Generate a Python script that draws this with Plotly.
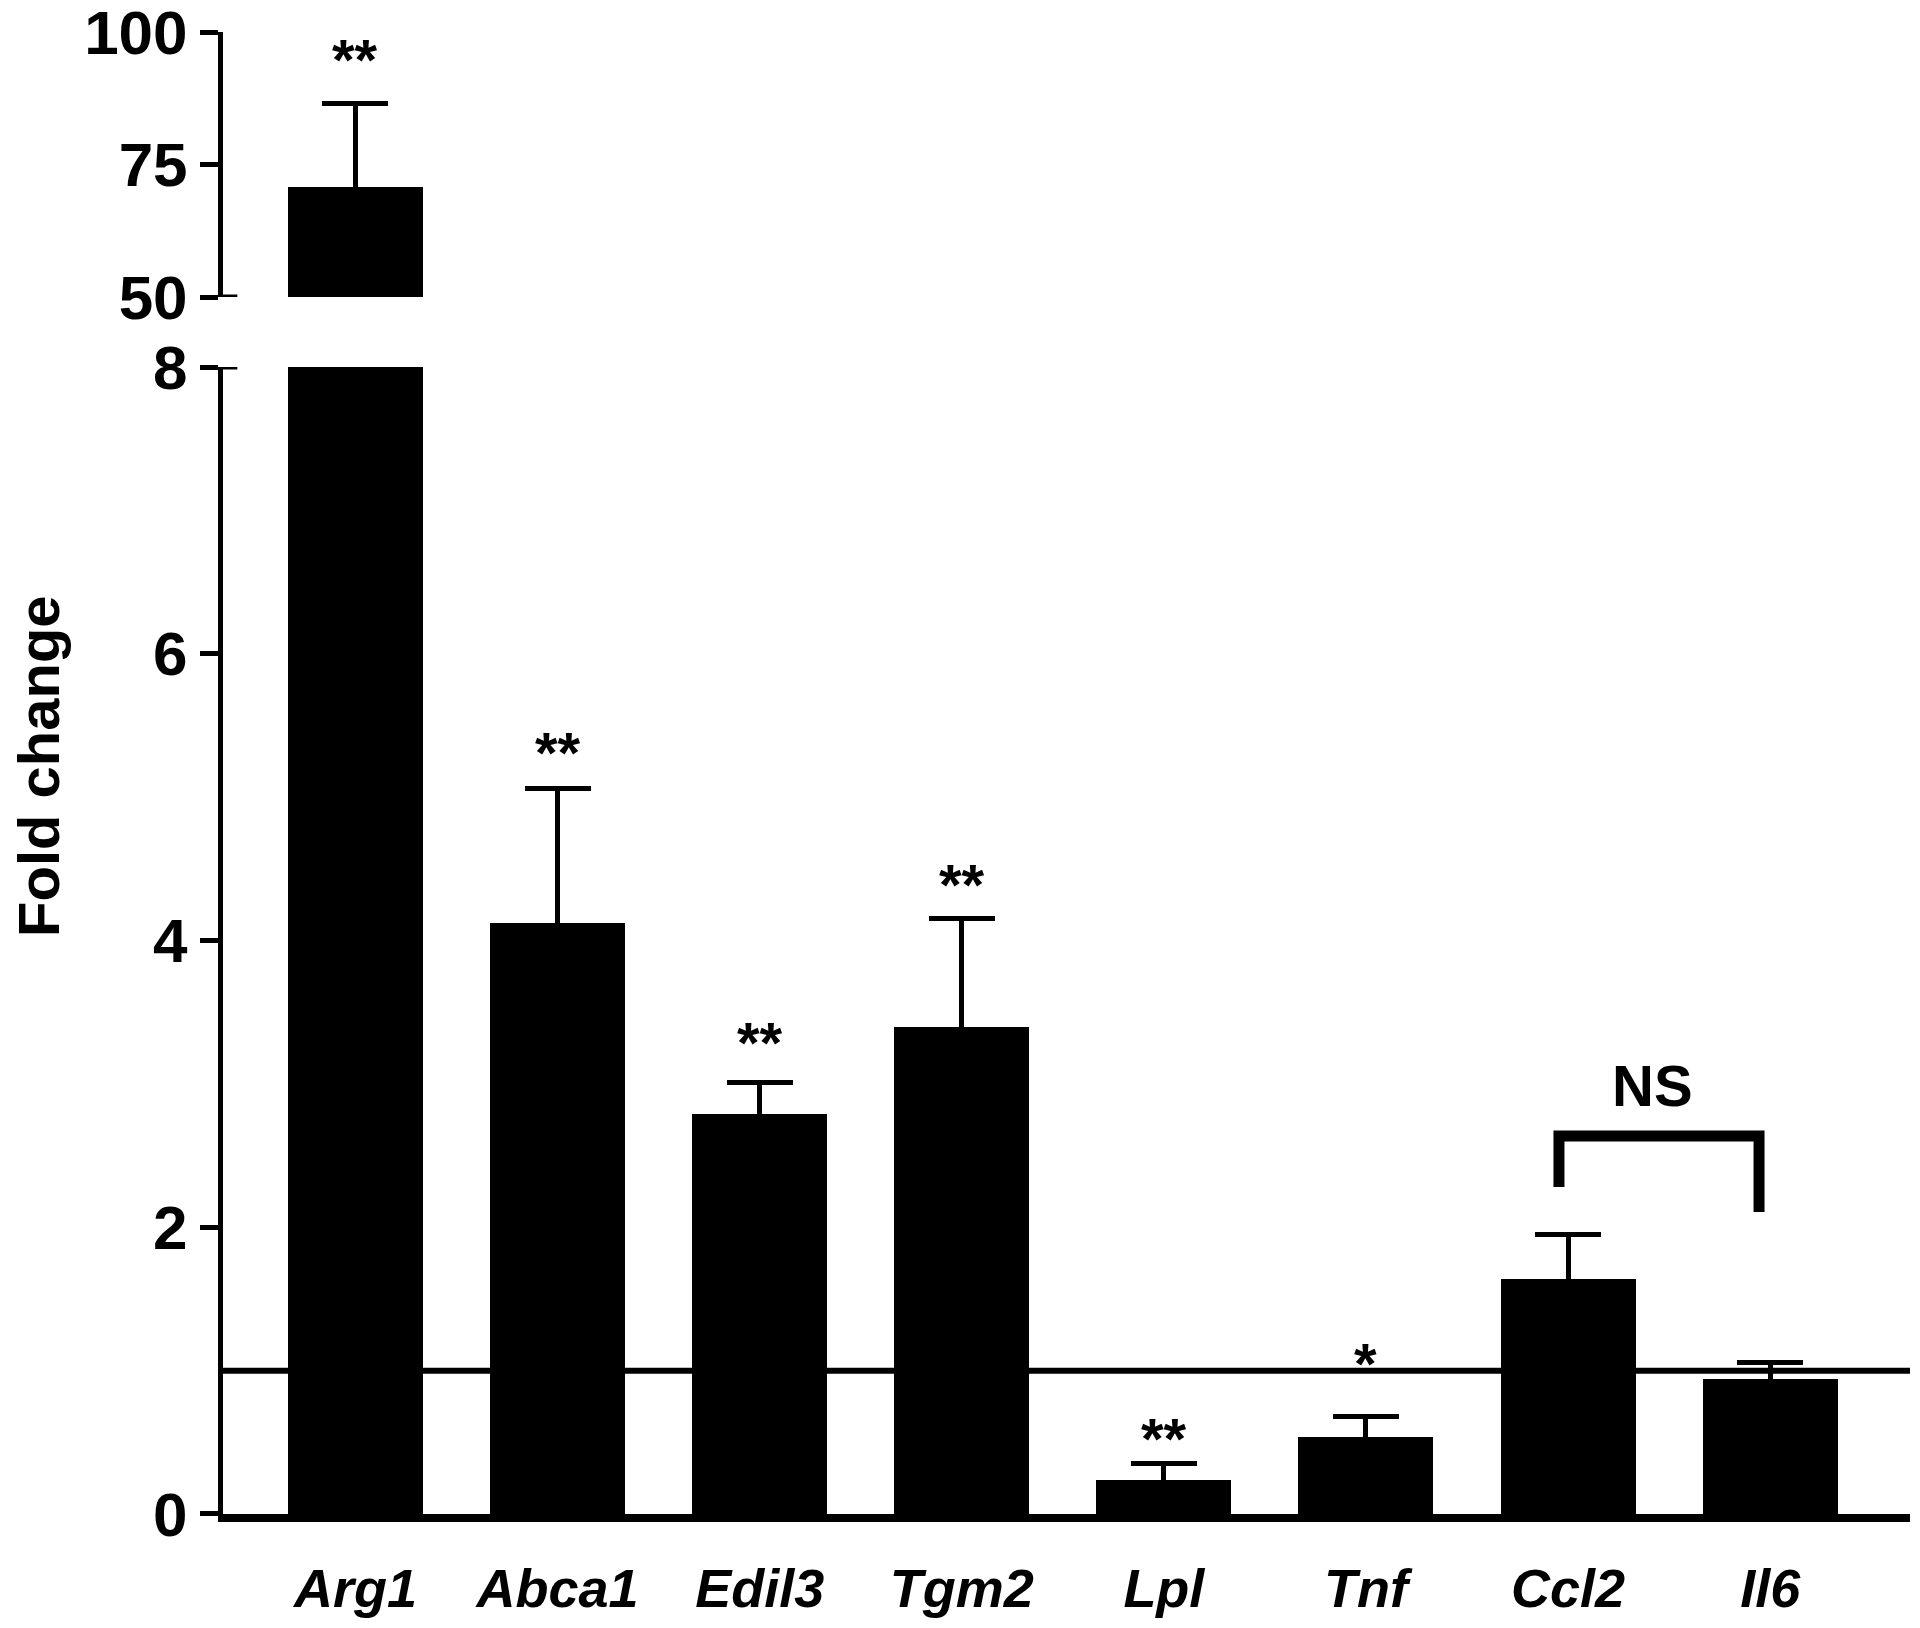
import plotly.graph_objects as go

genes = ["Arg1", "Abca1", "Edil3", "Tgm2", "Lpl", "Tnf", "Ccl2", "Il6"]
fold = [70.8, 4.12, 2.79, 3.40, 0.24, 0.54, 1.64, 0.94]
sem = [15.8, 0.94, 0.22, 0.75, 0.11, 0.14, 0.31, 0.12]
stars = ["**", "**", "**", "**", "**", "*", "", ""]
star_y = [96.0, 5.35, 3.33, 4.43, 0.565, 1.095, None, None]

lower_ticks = [0, 2, 4, 6, 8]
upper_ticks = [50, 75, 100]
lower_range = [0, 8]
upper_range = [50, 100]
baseline = 1.0

ns_label = "NS"
ns_x = 6.42
ns_y = 2.99
bracket_x = [5.955, 5.955, 6.945, 6.945]
bracket_y = [2.28, 2.636, 2.636, 2.106]

FONT = "Arial, Liberation Sans, Helvetica, sans-serif"
BLACK = "#000000"
BAR_W = 0.668
X_RANGE = [-0.6556, 7.692]

fig = go.Figure()

# lower panel bars (symmetric error: lower half hidden inside the black bar)
fig.add_trace(go.Bar(
    x=genes, y=fold, width=BAR_W, marker=dict(color=BLACK, line=dict(width=0)),
    error_y=dict(type="data", symmetric=True, array=sem,
                 color=BLACK, thickness=5, width=33),
    xaxis="x", yaxis="y", showlegend=False,
))
# upper panel (broken axis) bar
fig.add_trace(go.Bar(
    x=genes[:1], y=fold[:1], width=BAR_W, marker=dict(color=BLACK, line=dict(width=0)),
    error_y=dict(type="data", symmetric=True, array=sem[:1],
                 color=BLACK, thickness=5, width=33),
    xaxis="x2", yaxis="y2", showlegend=False,
))

split_lo = 0.77395
split_hi = 0.82119

fig.update_layout(
    width=1904, height=1612,
    margin=dict(l=215, r=2, t=24, b=106, autoexpand=False),
    paper_bgcolor="white", plot_bgcolor="white",
    bargap=0.0,
    xaxis=dict(
        domain=[0, 1], anchor="y", type="category", categoryarray=genes,
        range=X_RANGE, showgrid=False, zeroline=False, automargin=False,
        showline=True, linecolor=BLACK, linewidth=8, ticks="",
        tickfont=dict(family=FONT, size=54, color=BLACK, weight="bold", style="italic"),
        ticklabelstandoff=20, ticklabeloverflow="allow",
    ),
    xaxis2=dict(
        domain=[0, 1], anchor="y2", matches="x", type="category", categoryarray=genes,
        range=X_RANGE, visible=False, showgrid=False, zeroline=False,
        automargin=False,
    ),
    yaxis=dict(
        domain=[0, split_lo], anchor="x", range=lower_range, tickvals=lower_ticks,
        showgrid=False, zeroline=False, showline=True, linecolor=BLACK, linewidth=5,
        ticks="outside", ticklen=18, tickwidth=5, tickcolor=BLACK, automargin=False,
        tickfont=dict(family=FONT, size=62, color=BLACK, weight="bold"),
        ticklabelstandoff=0, ticklabeloverflow="allow",
    ),
    yaxis2=dict(
        domain=[split_hi, 1], anchor="x2", range=upper_range, tickvals=upper_ticks,
        showgrid=False, zeroline=False, showline=True, linecolor=BLACK, linewidth=5,
        ticks="outside", ticklen=18, tickwidth=5, tickcolor=BLACK, automargin=False,
        tickfont=dict(family=FONT, size=62, color=BLACK, weight="bold"),
        ticklabelstandoff=0, ticklabeloverflow="allow",
    ),
)

# baseline at fold change = 1
fig.add_shape(type="line", xref="x domain", yref="y", x0=0, x1=1, y0=baseline, y1=baseline,
              line=dict(color=BLACK, width=6), layer="above")
# axis-break caps
fig.add_shape(type="line", xref="x domain", yref="y2", x0=0, x1=0.0085,
              y0=upper_range[0], y1=upper_range[0], line=dict(color=BLACK, width=5))
fig.add_shape(type="line", xref="x domain", yref="y", x0=0, x1=0.0085,
              y0=lower_range[1], y1=lower_range[1], line=dict(color=BLACK, width=5))

# NS bracket built from the bracket lists
bracket_path = "M " + " L ".join(f"{bx},{by}" for bx, by in zip(bracket_x, bracket_y))
fig.add_shape(type="path", xref="x", yref="y", path=bracket_path,
              line=dict(color=BLACK, width=11), layer="above")

# significance stars
for g, s, sy in zip(genes, stars, star_y):
    if not s:
        continue
    up = sy > lower_range[1]
    fig.add_annotation(x=g, y=sy, xref="x2" if up else "x", yref="y2" if up else "y",
                       text=s, showarrow=False, yanchor="middle", yshift=-6,
                       font=dict(family=FONT, size=58, color=BLACK, weight="bold"))

fig.add_annotation(x=ns_x, y=ns_y, xref="x", yref="y", text=ns_label, showarrow=False,
                   yanchor="middle", font=dict(family=FONT, size=58, color=BLACK, weight="bold"))

# y-axis title
fig.add_annotation(x=-0.1097, y=0.5047, xref="paper", yref="paper", text="Fold change",
                   textangle=-90, showarrow=False, xanchor="center", yanchor="middle",
                   font=dict(family=FONT, size=58, color=BLACK, weight="bold"))

fig.write_html("out.html")
